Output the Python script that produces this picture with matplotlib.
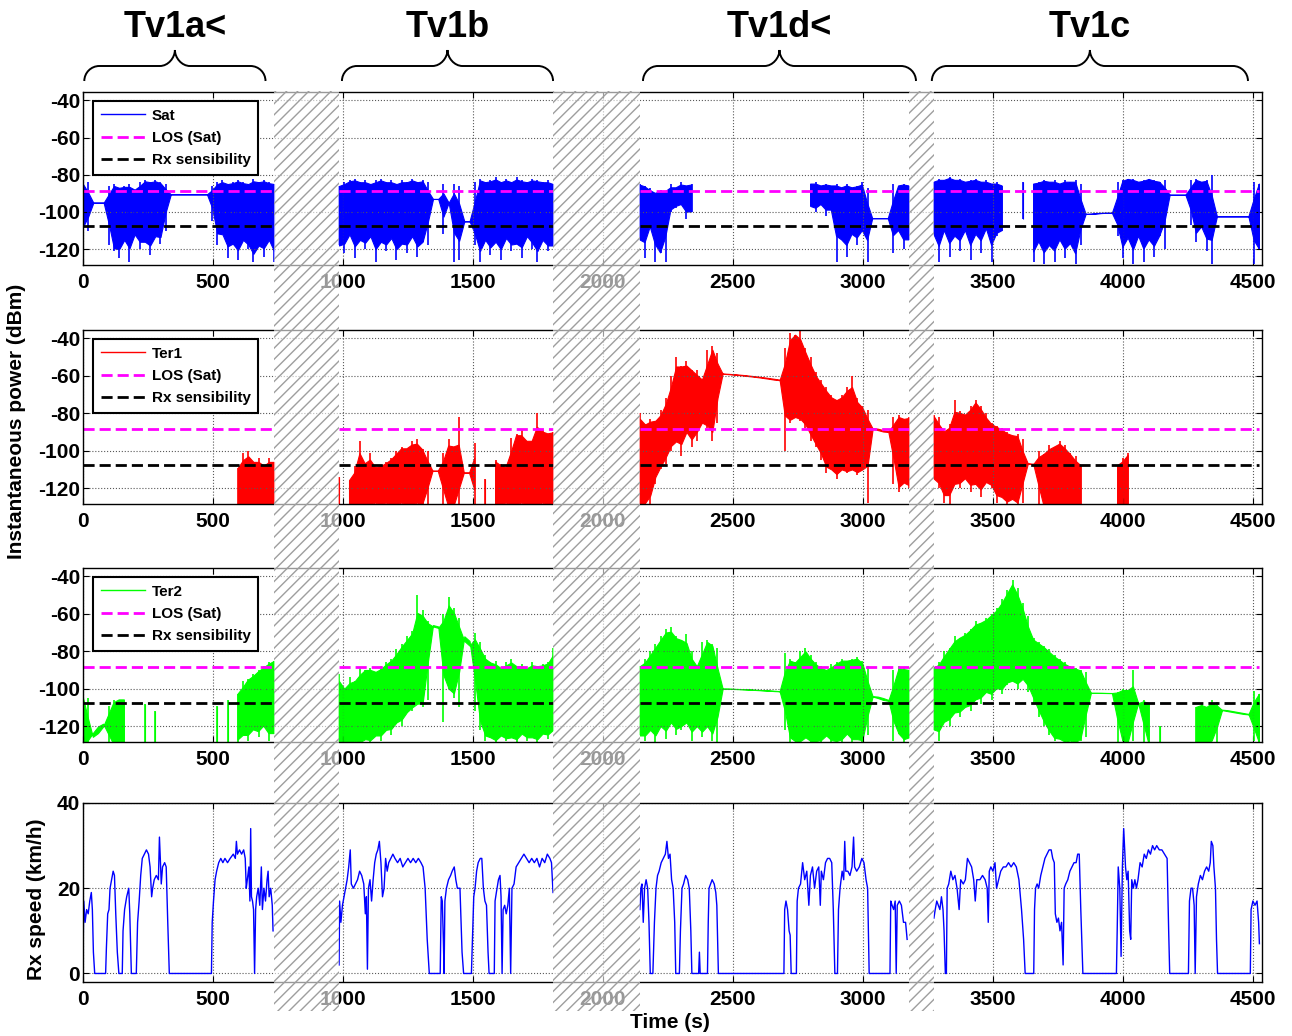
import numpy as np
import matplotlib.pyplot as plt
from matplotlib.lines import Line2D
from matplotlib.patches import Rectangle, PathPatch
from matplotlib.path import Path
from matplotlib.transforms import blended_transform_factory

plt.rcParams['font.family'] = ['Liberation Sans', 'DejaVu Sans']
plt.rcParams['font.weight'] = 'bold'
plt.rcParams['axes.unicode_minus'] = False
plt.rcParams['hatch.linewidth'] = 1.0

N = None

# measured segments (s), separated by the hatched gaps
seg_bounds = [(0, 735), (985, 1808), (2142, 3177), (3273, 4525)]
gaps = [(735, 985), (1808, 2142), (3177, 3273)]
campaigns = ['Tv1a<', 'Tv1b', 'Tv1d<', 'Tv1c']
campaign_spans = [(5, 702), (996, 1808), (2154, 3204), (3265, 4481)]

los_level = -88.5
sens_level = -107.5

# envelopes of the received power (dBm), ~20 s steps, one list per segment
sat_hi = [
    [-85, -84, -95, -95, -95, -86, -85, -87, -86, -85, -88, -84, -83, -84, -83, -84, -85,
     -90.5, -90.5, -90.5, -90.5, -90.5, -90.5, -90.5, -90.5,
     -86, -84, -83, -85, -84, -83, -84, -85, -82, -84, -83, -84, -85],
    [-86, -84, -83, -82, -84, -83, -85, -83, -82, -84, -83, -85, -83, -84, -82, -84, -83, -84,
     -93, -93, -85, -95, -85, -86, -105, -105,
     -84, -82, -84, -83, -81, -84, -82, -84, -81, -83, -84, -82, -83, -84, -83, -85],
    [-85, -86, -87, -90, -88, -89, -85, -87, -84, -86, -85,
     N, N, N, N, N, N, N, N, N, N, N, N, N, N, N, N, N, N, N, N, N, N,
     -85, -84, -86, -85, -86, -85, -87, -85, -87, -86, -84, -87,
     -103.6, -103.6, -103.6, -103.6, -85, -86, -85, -86],
    [-84, -82, -83, -81, -83, -82, -84, -83, -82, -84, -83, -85, -84, -86,
     N, N, N, -84, N,
     -85, -84, -83, -84, -83, -85, -83, -84, -83, -85,
     -101.3, -101.3, -101, -100.7, -100.7, -100.7,
     -84, -83, -82, -82, -84, -83, -82, -83, -84, -83,
     -91, -91, -91, -91, -83, -82, -84, -83, -80,
     -102.6, -102.6, -102.6, -102.6, -102.6, -102.6, -102.6, -84, -85],
]
sat_lo = [
    [-108, -110, -95, -95, -95, -118, -121, -125, -115, -127, -112, -120, -116, -123, -113, -117, -110,
     -90.5, -90.5, -90.5, -90.5, -90.5, -90.5, -90.5, -90.5,
     -105, -118, -112, -125, -117, -126, -115, -120, -127, -118, -124, -115, -127],
    [-118, -122, -112, -125, -115, -120, -113, -127, -116, -121, -114, -126, -117, -122, -113, -124, -116, -118,
     -93, -93, -112, -95, -127, -126, -105, -105,
     -118, -127, -115, -123, -116, -126, -114, -121, -117, -125, -113, -120, -127, -115, -121, -118],
    [-115, -125, -108, -127, -122, -127, -100, -98, -96, -104, -100,
     N, N, N, N, N, N, N, N, N, N, N, N, N, N, N, N, N, N, N, N, N, N,
     -97, -100, -96, -102, -99, -127, -115, -124, -112, -118, -110, -127,
     -103.6, -103.6, -103.6, -103.6, -122, -110, -120, -115],
    [-112, -127, -110, -124, -113, -121, -110, -126, -112, -122, -109, -127, -113, -110,
     N, N, N, -104, N,
     -127, -116, -128, -118, -127, -115, -125, -117, -128, -118,
     -101.3, -101.3, -101, -100.7, -100.7, -100.7,
     -113, -125, -114, -128, -113, -127, -115, -124, -113, -120,
     -91, -91, -91, -91, -107, -116, -108, -121, -128,
     -102.6, -102.6, -102.6, -102.6, -102.6, -102.6, -102.6, -128, -120],
]

ter1_hi = [
    [N] * 30 + [-109, -101, -100, -106, -104, -108, -104, -106],
    [-114, N, -116, -108, -95, -107, -101, -109, -108, -106, -104, -100, -98, -99, -95, -94, -99, -100,
     -111, -111, -101, -94, -98, -82, -112, -112,
     -96, N, -115, N, -105, -107, -109, -93, -91, -89, -95, -95, -80, -89, -91, -90],
    [-80, -86, -83, -84, -78, -72, -60, -50, -55, -52, -57, -57, -62, -46, -44, -48,
     -58.8, -59.0, -59.2, -59.4, -59.7, -60.0, -60.3, -60.6, -61.0, -61.4, -61.8, -62.3,
     -45, -37, -38, -36, -45, -50, -58, -62, -66, -70, -73, -70, -66, -60, -72, -76, -78,
     -88, -88.5, -89.5, -90, -82, -81, -83, -82],
    [-81, -82, -90, -86, -73, -79, -81, -76, -73, -76, -80, -85, -87, -88, -90, -92, -91, -94,
     -107, -107.5, -100, -102, -97, -98, -95, -97, -101, -103, -108,
     N, N, N, N, N, N, -108, -104, -101] + [N] * 25,
]
ter1_lo = [
    [N] * 30 + [-130] * 8,
    [-130, N, -130, -130, -130, -130, -130, -128, -130, -128, -130, -130, -128, -130, -130, -128, -130, -130,
     -111, -111, -130, -130, -130, -130, -112, -112,
     -130, N, -130, N, -130, -130, -128, -130, -130, -128, -130, -130, -130, -128, -130, -130],
    [-130, -128, -130, -118, -110, -107, -100, -95, -103, -90, -98, -95, -85, -88, -95, -85,
     -58.8, -59.0, -59.2, -59.4, -59.7, -60.0, -60.3, -60.6, -61.0, -61.4, -61.8, -62.3,
     -100, -85, -82, -84, -88, -95, -98, -105, -112, -110, -115, -110, -112, -110, -113, -110, -128,
     -88, -88.5, -89.5, -90, -118, -122, -117, -120],
    [-115, -120, -128, -130, -118, -120, -115, -122, -118, -125, -117, -120, -128, -125, -130, -126, -130, -128,
     -107, -107.5, -130, -130, -130, -130, -130, -130, -130, -130, -130,
     N, N, N, N, N, N, -130, -130, -130] + [N] * 25,
]

ter2_hi = [
    [-103, -105, -126, -122, -119, -109, -106, -106, -106, N, N, N, -108, N, -112,
     N, N, N, N, N, N, N, N, N, N, N,
     -109, N, -106, N, -103, -96, -95, -92, -90, -88, -86, -85],
    [-92, -100, -94, -96, -89, -90, -89, -91, -88, -86, -84, -79, -76, -72, -69, -50, -58, -64,
     -66, -67.5, -60, -51, -57, -62, -72, -77,
     -70, -75, -82, -86, -85, -89, -86, -84, -88, -87, -89, -86, -88, -87, -86, -78],
    [-88, -84, -80, -76, -72, -68, -67, -72, -74, -71, -80, -88, -75, -74, -76, -78,
     -100, -100, -100.1, -100.2, -100.3, -100.4, -100.6, -100.7, -100.9, -101.0, -101.2, -101.4,
     -81, -84, -86, -80, -78, -82, -86, -88, -90, -87, -86, -84, -85, -84, -83, -85, -88,
     -104, -104.5, -105.5, -106.5, -90, -88, -89, -90],
    [-89, -86, -80, -78, -72, -73, -70, -68, -64, -65, -62, -60, -57, -52, -47, -42, -46, -54, -61, -73,
     -75, -77, -79, -82, -84, -86, -88, -89, -90, -91,
     -102.5, -102.5, -102.5, -102.6, -102.6,
     -102, -100, -101, -90, -108, -106, -108, N, -120, N, N, N, N, N, N,
     -110, -108, -110, -106, -107, -111.5, -112, -112.5, -113, -113.5, -114, -101, -103],
]
ter2_lo = [
    [-130, -130, -126, -122, -119, -130, -130, -130, -130, N, N, N, -130, N, -130,
     N, N, N, N, N, N, N, N, N, N, N,
     -130, N, -130, N, -130, -125, -128, -122, -126, -120, -128, -124],
    [-130, -130, -130, -128, -130, -127, -130, -125, -128, -122, -125, -118, -120, -113, -112, -108, -110, -106,
     -66, -67.5, -118, -100, -105, -110, -72, -77,
     -112, -122, -128, -126, -130, -125, -128, -126, -130, -124, -128, -126, -130, -124, -127, -122],
    [-125, -128, -122, -130, -120, -127, -118, -125, -122, -118, -128, -120, -126, -120, -128, -130,
     -100, -100, -100.1, -100.2, -100.3, -100.4, -100.6, -100.7, -100.9, -101.0, -101.2, -101.4,
     -122, -130, -128, -130, -126, -130, -128, -130, -125, -130, -128, -130, -124, -130, -127, -130, -125,
     -104, -104.5, -105.5, -106.5, -128, -124, -130, -126],
    [-122, -128, -118, -120, -113, -115, -110, -112, -106, -108, -102, -106, -100, -103, -98, -96, -100, -95, -102, -108,
     -115, -120, -125, -128, -127, -130, -128, -130, -128, -126,
     -102.5, -102.5, -102.5, -102.6, -102.6,
     -130, -128, -130, -128, -108, -130, -130, N, -130, N, N, N, N, N, N,
     -130, -130, -130, -128, -130, -111.5, -112, -112.5, -113, -113.5, -114, -128, -130],
]

# receiver speed (km/h), (time, speed) points per segment
speed = [
    [(0, 4), (3, 17), (8, 12), (14, 15), (20, 14), (26, 17), (32, 19), (36, 15), (40, 5), (45, 0), (87, 0),
     (90, 6), (95, 14), (100, 15), (104, 20), (110, 22), (116, 24), (121, 23), (126, 14), (132, 5), (138, 0),
     (151, 0), (154, 10), (160, 15), (168, 18), (176, 20), (180, 14), (186, 0), (205, 0), (210, 12),
     (216, 17), (222, 23), (228, 27), (236, 28), (244, 29), (252, 28), (258, 25), (264, 18), (268, 20),
     (274, 22), (282, 23), (290, 22), (294, 32), (298, 26), (301, 21), (306, 25), (314, 26), (320, 25),
     (326, 12), (332, 0), (494, 0), (497, 12), (502, 17), (508, 22), (514, 24), (522, 26), (530, 27),
     (538, 26), (546, 27), (556, 26), (566, 27), (578, 28), (586, 27), (590, 31), (594, 28), (602, 29),
     (610, 28), (618, 29), (624, 27), (628, 20), (632, 22), (638, 25), (642, 17), (645, 34), (648, 18),
     (652, 17), (656, 15), (660, 0), (664, 15), (668, 18), (674, 20), (680, 16), (686, 25), (690, 15),
     (696, 20), (702, 17), (708, 22), (712, 24), (716, 18), (722, 20), (728, 16), (731, 10)],
    [(985, 2), (987, 17), (992, 12), (998, 16), (1004, 18), (1010, 20), (1016, 22), (1022, 25), (1028, 29),
     (1032, 21), (1040, 20), (1048, 21), (1056, 22), (1064, 24), (1072, 23), (1080, 21), (1086, 14),
     (1090, 18), (1094, 1), (1098, 20), (1104, 22), (1110, 17), (1116, 22), (1122, 26), (1128, 28),
     (1134, 29), (1140, 31), (1146, 26), (1152, 18), (1158, 20), (1164, 27), (1170, 24), (1176, 26),
     (1184, 27), (1192, 28), (1200, 27), (1210, 26), (1220, 27), (1230, 25), (1240, 26), (1250, 27),
     (1260, 26), (1270, 27), (1280, 26), (1290, 27), (1300, 26), (1308, 25), (1316, 20), (1324, 8),
     (1332, 0), (1374, 0), (1378, 18), (1382, 17), (1386, 8), (1389, 0), (1392, 17), (1398, 20),
     (1406, 22), (1414, 23), (1420, 24), (1428, 25), (1434, 22), (1440, 20), (1450, 20), (1458, 5),
     (1464, 0), (1494, 0), (1499, 10), (1503, 18), (1508, 20), (1514, 24), (1520, 26), (1528, 27),
     (1534, 27), (1540, 20), (1546, 17), (1552, 16), (1558, 5), (1562, 0), (1582, 0), (1585, 17),
     (1590, 19), (1598, 22), (1604, 23), (1608, 18), (1612, 0), (1616, 15), (1622, 16), (1628, 14),
     (1634, 16), (1640, 20), (1645, 0), (1650, 20), (1658, 21), (1666, 25), (1676, 26), (1686, 27),
     (1696, 28), (1706, 27), (1716, 26), (1726, 27), (1736, 26), (1746, 27), (1756, 25), (1766, 27),
     (1776, 26), (1786, 28), (1796, 27), (1802, 26), (1808, 19)],
    [(2142, 15), (2146, 20), (2150, 21), (2155, 12), (2160, 20), (2166, 22), (2172, 20), (2177, 12),
     (2182, 0), (2192, 0), (2198, 12), (2204, 20), (2210, 23), (2216, 24), (2224, 26), (2232, 27),
     (2240, 28), (2246, 31), (2252, 27), (2258, 28), (2264, 22), (2270, 20), (2276, 12), (2280, 0),
     (2294, 0), (2298, 10), (2304, 20), (2310, 21), (2318, 23), (2326, 22), (2332, 20), (2338, 10),
     (2342, 0), (2368, 0), (2371, 5), (2374, 0), (2402, 0), (2405, 12), (2408, 20), (2414, 21), (2420, 22),
     (2428, 21), (2434, 19), (2438, 16), (2444, 0), (2696, 0), (2699, 15), (2704, 17), (2710, 15),
     (2716, 10), (2720, 9), (2724, 0), (2744, 0), (2747, 17), (2752, 20), (2760, 21), (2768, 26),
     (2776, 22), (2784, 24), (2792, 16), (2798, 23), (2806, 25), (2814, 20), (2822, 24), (2830, 25),
     (2836, 16), (2840, 24), (2848, 22), (2856, 26), (2864, 27), (2872, 27), (2880, 26), (2886, 15),
     (2892, 0), (2902, 0), (2906, 15), (2912, 20), (2920, 24), (2926, 22), (2930, 31), (2934, 24),
     (2942, 24), (2950, 23), (2958, 25), (2964, 32), (2968, 25), (2976, 24), (2986, 25), (2996, 27),
     (3004, 26), (3012, 22), (3018, 20), (3024, 0), (3104, 0), (3107, 17), (3112, 16), (3118, 15),
     (3124, 17), (3128, 0), (3132, 16), (3140, 17), (3148, 16), (3156, 12), (3164, 12), (3170, 8)],
    [(3273, 13), (3278, 15), (3284, 17), (3290, 16), (3296, 15), (3302, 18), (3308, 15), (3312, 10),
     (3317, 0), (3321, 0), (3324, 20), (3330, 21), (3338, 24), (3346, 22), (3354, 23), (3362, 20),
     (3370, 15), (3376, 22), (3386, 21), (3394, 22), (3402, 27), (3410, 26), (3418, 25), (3426, 22),
     (3432, 17), (3438, 22), (3450, 22), (3460, 23), (3470, 22), (3478, 20), (3482, 12), (3486, 24),
     (3492, 25), (3500, 24), (3508, 26), (3514, 20), (3522, 22), (3530, 24), (3540, 25), (3550, 25),
     (3560, 26), (3570, 25), (3580, 26), (3590, 25), (3600, 22), (3610, 15), (3618, 8), (3624, 0),
     (3657, 0), (3660, 15), (3664, 20), (3670, 21), (3676, 20), (3684, 23), (3692, 25), (3700, 27),
     (3708, 28), (3716, 29), (3724, 29), (3730, 27), (3736, 26), (3740, 14), (3746, 12), (3752, 13),
     (3758, 10), (3764, 12), (3770, 2), (3774, 20), (3780, 21), (3788, 22), (3796, 24), (3804, 25),
     (3812, 26), (3820, 26), (3826, 28), (3832, 28), (3838, 15), (3846, 0), (3975, 0), (3978, 10),
     (3982, 25), (3988, 20), (3993, 4), (3998, 25), (4003, 34), (4006, 30), (4010, 25), (4015, 22),
     (4020, 24), (4026, 10), (4030, 8), (4034, 22), (4040, 20), (4046, 22), (4052, 20), (4058, 22),
     (4066, 26), (4074, 25), (4082, 28), (4090, 27), (4098, 29), (4106, 28), (4114, 30), (4122, 29),
     (4130, 30), (4140, 29), (4150, 29), (4160, 28), (4170, 27), (4176, 10), (4180, 0), (4252, 0),
     (4256, 17), (4262, 20), (4268, 20), (4274, 16), (4278, 0), (4283, 18), (4290, 21), (4298, 23),
     (4306, 22), (4314, 24), (4322, 25), (4330, 24), (4336, 26), (4340, 31), (4346, 30), (4350, 25),
     (4356, 20), (4360, 8), (4364, 0), (4490, 0), (4493, 15), (4500, 17), (4508, 16), (4516, 17),
     (4522, 12), (4525, 7)],
]

series = [('Sat', 'b', sat_hi, sat_lo), ('Ter1', 'r', ter1_hi, ter1_lo), ('Ter2', '#00ff00', ter2_hi, ter2_lo)]


def core(v, fn):
    # solid band: halfway between the sample and its neighbour-limited value,
    # so lone extremes show up as thin spikes
    p = np.concatenate([[np.nan], v, [np.nan]])
    lim = fn(fn(p[:-2], p[2:]), v)
    return np.where(np.isnan(v), np.nan, 0.5 * (v + lim))


W, H = 1292, 1036
fig = plt.figure(figsize=(W / 100, H / 100), dpi=100)
left, width = 83 / W, (1262 - 83) / W
panels = [(92, 265), (330, 504), (568, 742), (803, 982)]
axes = [fig.add_axes([left, 1 - b / H, width, (b - t) / H]) for t, b in panels]

magenta = '#ff00ff'
dash = (4, 1.8)

for ax, (name, col, hi, lo) in zip(axes[:3], series):
    for (a, b), h, l in zip(seg_bounds, hi, lo):
        h = np.array(h, dtype=float)
        l = np.array(l, dtype=float)
        t = np.linspace(a, b, len(h))
        ax.fill_between(t, core(l, np.fmax), core(h, np.fmin), facecolor=col, edgecolor=col, lw=0.8)
        ax.vlines(t, l, h, color=col, lw=1.2)
        ax.plot([a, b], [los_level] * 2, color=magenta, lw=2, dashes=dash)
        ax.plot([a, b], [sens_level] * 2, color='k', lw=2, dashes=dash)
    ax.set_ylim(-128.5, -35.5)
    ax.set_yticks([-40, -60, -80, -100, -120])
    handles = [Line2D([], [], color=col, lw=1),
               Line2D([], [], color=magenta, lw=2, dashes=dash),
               Line2D([], [], color='k', lw=2, dashes=dash)]
    leg = ax.legend(handles, [name, 'LOS (Sat)', 'Rx sensibility'], loc='upper left',
                    bbox_to_anchor=(0.0085, 0.948), borderaxespad=0, fontsize=11,
                    handlelength=2.9, handletextpad=0.45, labelspacing=0.55, borderpad=0.5,
                    fancybox=False, framealpha=1, edgecolor='k')
    leg.get_frame().set_linewidth(1.5)
    leg.set_zorder(20)

ax4 = axes[3]
for seg in speed:
    st, sv = zip(*seg)
    ax4.plot(st, sv, color='b', lw=1)
ax4.set_ylim(-2, 40)
ax4.set_yticks([0, 20, 40])

for ax in axes:
    ax.set_xlim(0, 4535)
    ax.set_xticks(range(0, 4501, 500))
    ax.grid(True, linestyle=':', color='0.35', linewidth=0.8)
    ax.tick_params(direction='in', top=True, right=True, length=4, labelsize=15)
    ax.tick_params(axis='y', pad=2)
    ax.tick_params(axis='x', pad=6)
    for s in ax.spines.values():
        s.set_linewidth(1.0)

# hatched gaps between measurement campaigns
trans = blended_transform_factory(axes[0].transData, fig.transFigure)
for g0, g1 in gaps:
    fig.add_artist(Rectangle((g0, 1 - 1011 / H), g1 - g0, (1011 - 91) / H, transform=trans,
                             facecolor=(1, 1, 1, 0.6), edgecolor='0.62', hatch='///', lw=0, zorder=10))

# curly braces and campaign names
ye, ym, yt = H - 81, H - 66, H - 50
r = 15
for name, (x0, x1) in zip(campaigns, campaign_spans):
    p0 = axes[0].transData.transform((x0, 0))[0]
    p1 = axes[0].transData.transform((x1, 0))[0]
    pm = (p0 + p1) / 2
    k = 0.55 * r
    verts = [(p0, ye), (p0, ye + k), (p0 + r - k, ym), (p0 + r, ym),
             (pm - r, ym),
             (pm - r + k, ym), (pm, yt - 16 + k), (pm, yt),
             (pm, yt - 16 + k), (pm + r - k, ym), (pm + r, ym),
             (p1 - r, ym),
             (p1 - r + k, ym), (p1, ye + k), (p1, ye)]
    codes = [Path.MOVETO, Path.CURVE4, Path.CURVE4, Path.CURVE4, Path.LINETO,
             Path.CURVE4, Path.CURVE4, Path.CURVE4,
             Path.CURVE4, Path.CURVE4, Path.CURVE4, Path.LINETO,
             Path.CURVE4, Path.CURVE4, Path.CURVE4]
    verts = [(x / W, y / H) for x, y in verts]
    fig.add_artist(PathPatch(Path(verts, codes), transform=fig.transFigure,
                             facecolor='none', edgecolor='k', lw=1.4))
    fig.text(pm / W, 1 - 37 / H, name, ha='center', va='baseline', fontsize=26, fontweight='bold')

fig.text(17 / W, 1 - 421 / H, 'Instantaneous power (dBm)', rotation=90, ha='center', va='center', fontsize=15)
fig.text(37 / W, 1 - 899 / H, 'Rx speed (km/h)', rotation=90, ha='center', va='center', fontsize=15)
fig.text(670 / W, 1 - 1022 / H, 'Time (s)', ha='center', va='center', fontsize=15)

fig.savefig('out.png', dpi=100)
